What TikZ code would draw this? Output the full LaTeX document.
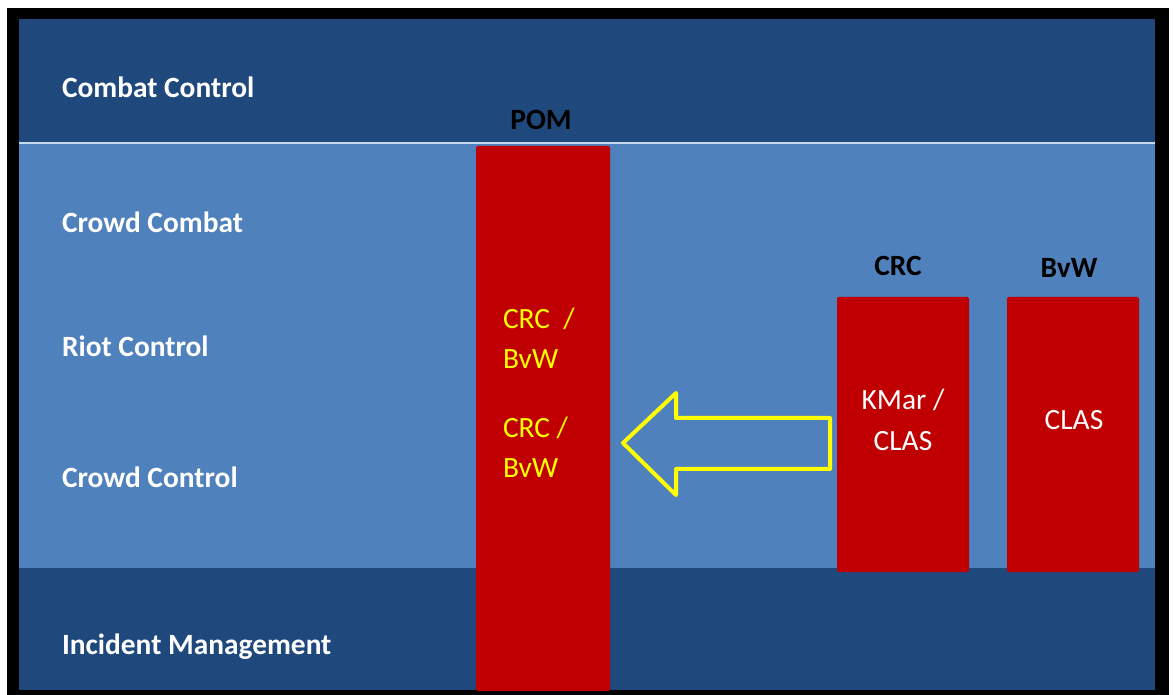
\documentclass[tikz,border=0pt]{standalone}
\usepackage{fontspec}
\setmainfont{Carlito}
\definecolor{darkband}{RGB}{31,73,125}
\definecolor{lightband}{RGB}{79,129,189}
\definecolor{bandline}{RGB}{198,217,241}
\definecolor{boxred}{RGB}{192,0,0}
\definecolor{arrowyellow}{RGB}{255,255,0}

\begin{document}
\begin{tikzpicture}[x=0.5pt, y=-0.5pt,
    every node/.style={font=\fontsize{14.7}{20}\selectfont, inner sep=0pt, outer sep=0pt},
    level/.style={anchor=west, text=white, font=\fontsize{14.7}{20}\selectfont\bfseries},
    unit/.style={text=black, font=\fontsize{14.7}{20}\selectfont\bfseries},
    block/.style={fill=boxred, rounded corners=1pt, minimum width=66pt},
    inblock/.style={text=white, align=center, font=\fontsize{14.7}{20.5}\selectfont}]
    \useasboundingbox (0, 0) rectangle (1174, 695);
    \fill[white] (0, 0) rectangle (1174, 695);

    % frame and bands
    \fill[black] (7, 8) rectangle (1169, 695);
    \fill[darkband] (19, 19) rectangle (1155, 143);
    \fill[lightband] (19, 143) rectangle (1155, 568);
    \fill[darkband] (19, 568) rectangle (1155, 690);
    \draw[bandline, line width=0.6pt] (19, 143) -- (1155, 143);

    \node[level] (combat) at (62, 87) {Combat Control};
    \node[level] (crowdcombat) at (62, 222) {Crowd Combat};
    \node[level] (riot) at (62, 346) {Riot Control};
    \node[level] (crowdcontrol) at (62, 477) {Crowd Control};
    \node[level] (incident) at (62, 647) {Incident Management};

    % units
    \node[block, minimum width=67pt, minimum height=272.5pt] (pom) at (543, 418.5) {};
    \node[block, minimum height=137.5pt] (crc) at (903, 434.5) {};
    \node[block, minimum height=137.5pt] (bvw) at (1073, 434.5) {};

    \node[unit] (pomlabel) at (541, 120) {POM};
    \node[unit] (crclabel) at (898, 266) {CRC};
    \node[unit] (bvwlabel) at (1069, 268) {BvW};

    \node[text=arrowyellow, align=left, anchor=west] (pomtop) at (503, 338) {CRC\ \ /\\BvW};
    \node[text=arrowyellow, align=left, anchor=west] (pombottom) at (503, 447) {CRC /\\BvW};
    \node[inblock] (crctext) at (903, 419.5) {KMar /\\CLAS};
    \node[inblock] (bvwtext) at (1074, 420) {CLAS};

    % shift from CRC to POM
    \draw[arrowyellow, line width=2pt, line join=round]
        (830, 418) -- (676, 418) -- (676, 393) -- (623, 443)
        -- (676, 495) -- (676, 469) -- (830, 469) -- cycle;
\end{tikzpicture}
\end{document}
